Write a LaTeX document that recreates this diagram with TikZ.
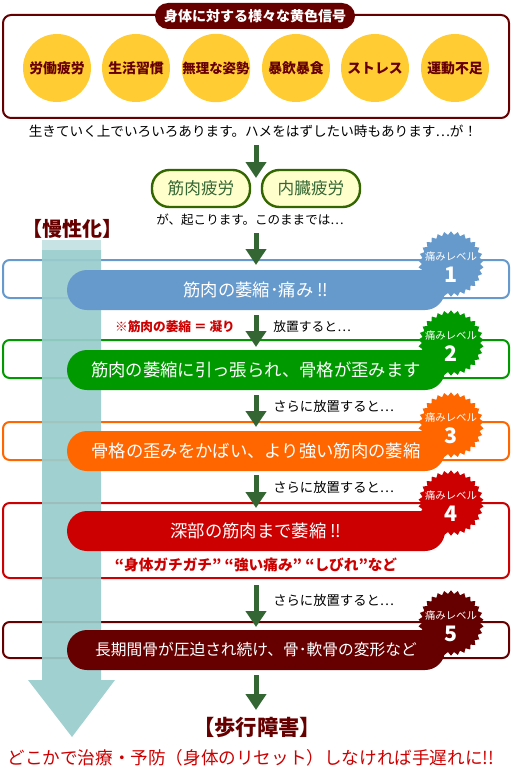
\documentclass[tikz,border=0pt]{standalone}
\usepackage{fontspec}
\setmainfont{Noto Sans CJK JP}
\usetikzlibrary{shapes.geometric,arrows.meta}
\definecolor{dred}{HTML}{660000}
\definecolor{ylw}{HTML}{FFCC33}
\definecolor{lblue}{HTML}{6699CC}
\definecolor{lgreen}{HTML}{009900}
\definecolor{lorange}{HTML}{FF6600}
\definecolor{lred}{HTML}{CC0000}
\definecolor{tealc}{HTML}{99CCCC}
\definecolor{agreen}{HTML}{336633}
\definecolor{pillfill}{HTML}{FFFFCC}
\definecolor{pillborder}{HTML}{336600}
\newcommand{\fs}[1]{\fontsize{#1}{#1}\selectfont}
\newcommand{\jdots}{{\addfontfeature{CharacterWidth=Full}…}}
\begin{document}
\begin{tikzpicture}[x=0.75pt,y=-0.75pt,
  outerbox/.style={draw, line width=1.5pt, fill=white, rounded corners=5pt, minimum width=379.5pt, inner sep=0},
  pill/.style={rounded corners=15pt, minimum width=283.5pt, minimum height=30pt, text=white, inner sep=0, font=\fs{13pt}},
  badge/.style={star, star points=30, star point ratio=1.12, minimum size=49pt, inner sep=0},
  btxt/.style={font=\fs{7.8pt}, text=white, inner sep=0},
  bnum/.style={font=\bfseries\fs{16pt}, text=white, inner sep=0},
  sign/.style={circle, fill=ylw, minimum size=51pt, inner sep=0, text=dred, font=\bfseries\fs{10.4pt}},
  tired/.style={draw=pillborder, line width=1.8pt, fill=pillfill, rounded corners=13pt, minimum width=73.5pt, minimum height=27.75pt, inner sep=0, text=agreen, font=\fs{12.5pt}},
  garrow/.style={draw=agreen, line width=3.75pt, -{Triangle[width=15pt,length=12pt]}},
  plain/.style={inner sep=0, font=\fs{10pt}}
]
\useasboundingbox (0,0) rectangle (510,770);

% top box
\draw[draw=dred, line width=1.5pt, rounded corners=6pt] (3,15) rectangle (509,118);
\node[fill=dred, rounded corners=9.75pt, minimum width=150pt, minimum height=19.5pt, inner sep=0, text=white, font=\bfseries\fs{10.5pt}] (title) at (255,16) {身体に対する様々な黄色信号};
\node[sign] (s1) at (57,68) {労働疲労};
\node[sign] (s2) at (136,68) {生活習慣};
\node[sign] (s3) at (216,68) {\fs{10.1pt}無理な姿勢};
\node[sign] (s4) at (296,68) {暴飲暴食};
\node[sign] (s5) at (375,68) {ストレス};
\node[sign] (s6) at (455,68) {運動不足};

\node[plain, font=\fs{10.2pt}] (life) at (253,131) {生きていく上でいろいろあります。ハメをはずしたい時もあります\jdots が！};

\node[tired] (t1) at (201,188.5) {筋肉疲労};
\node[tired] (t2) at (311,188.5) {内臓疲労};
\node[plain, font=\fs{9.4pt}] (occur) at (250,220) {が、起こります。このままでは\jdots};
\node[inner sep=0, text=dred, font=\bfseries\fs{15pt}] (chronic) at (72,229) {【慢性化】};

% outer boxes
\node[outerbox, draw=lblue, minimum height=28.5pt] (o1) at (256,279) {};
\node[outerbox, draw=lgreen, minimum height=28.5pt] (o2) at (256,359) {};
\node[outerbox, draw=lorange, minimum height=28.5pt] (o3) at (256,441) {};
\node[outerbox, draw=lred, minimum height=56.25pt] (o4) at (256,540.5) {};
\node[outerbox, draw=dred, minimum height=27pt] (o5) at (256,640) {};

% teal arrow
\fill[tealc!55!white] (42,240) rectangle (101,250);
\fill[tealc, opacity=0.92] (42,250) -- (101,250) -- (101,680) -- (115,680) -- (72,737) -- (28,680) -- (42,680) -- cycle;

% pills
\node[pill, fill=lblue] (p1) at (256,290) {筋肉の萎縮･痛み !!};
\node[pill, fill=lgreen] (p2) at (256,370) {筋肉の萎縮に引っ張られ、骨格が歪みます};
\node[pill, fill=lorange] (p3) at (256,451) {骨格の歪みをかばい、より強い筋肉の萎縮};
\node[pill, fill=lred] (p4) at (256,531) {深部の筋肉まで萎縮 !!};
\node[pill, fill=dred, font=\fs{11.8pt}] (p5) at (256,650) {長期間骨が圧迫され続け、骨･軟骨の変形など};

\node[inner sep=0, text=lred, font=\bfseries\fs{11pt}] (quotes) at (256,565) {“身体ガチガチ” “強い痛み” “しびれ”など};

% badges
\node[badge, fill=lblue] (b1) at (451,264) {};
\node[badge, fill=lgreen] (b2) at (451,343) {};
\node[badge, fill=lorange] (b3) at (451,425) {};
\node[badge, fill=lred] (b4) at (451,503) {};
\node[badge, fill=dred] (b5) at (451,623) {};
\foreach \b/\y/\n in {b1/264/1, b2/343/2, b3/425/3, b4/503/4, b5/623/5}{
  \node[btxt] (\b t) at (451,\y-7) {痛みレベル};
  \node[bnum] (\b n) at (451,\y+10.5) {\n};
}

% side texts
\node[inner sep=0, text=lred, font=\bfseries\fs{9.5pt}] (note) at (175,327) {※筋肉の萎縮 ＝ 凝り};
\node[plain, anchor=west, font=\fs{9.6pt}] (leave1) at (273,327) {放置すると\jdots};
\node[plain, anchor=west] (leave2) at (273,406) {さらに放置すると\jdots};
\node[plain, anchor=west] (leave3) at (273,487) {さらに放置すると\jdots};
\node[plain, anchor=west] (leave4) at (273,600) {さらに放置すると\jdots};

\node[inner sep=0, text=dred, font=\bfseries\fs{16pt}] (walk) at (257,727) {【歩行障害】};
\node[inner sep=0, text=lred, font=\fs{13.2pt}] (warn) at (251,758) {どこかで治療・予防（身体のリセット）しなければ手遅れに!!};

% green arrows
\coordinate (a0s) at (256,145); \coordinate (a0e) at (256,178);
\coordinate (a1s) at (256,233); \coordinate (a1e) at (256,265);
\coordinate (a2s) at (256,315); \coordinate (a2e) at (256,347);
\coordinate (a3s) at (256,395); \coordinate (a3e) at (256,427);
\coordinate (a4s) at (256,475); \coordinate (a4e) at (256,508);
\coordinate (a5s) at (256,585); \coordinate (a5e) at (256,627);
\coordinate (a6s) at (256,675); \coordinate (a6e) at (256,710);
\foreach \i in {0,...,6}{\draw[garrow] (a\i s) -- (a\i e);}
\end{tikzpicture}
\end{document}
